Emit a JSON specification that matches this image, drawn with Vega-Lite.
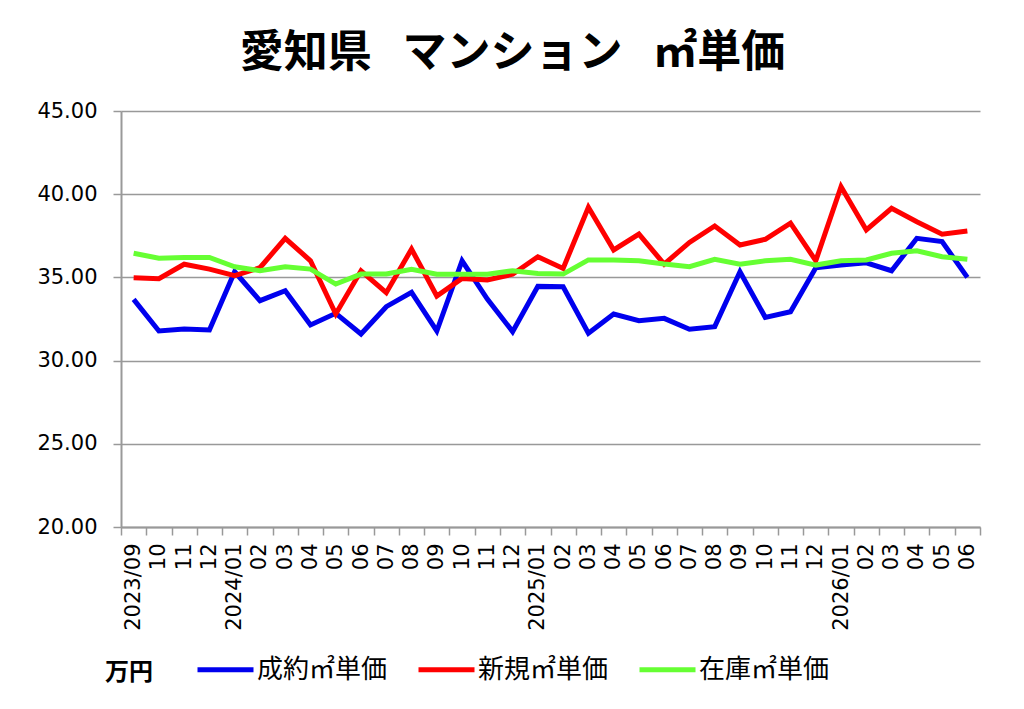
{
  "$schema": "https://vega.github.io/schema/vega-lite/v6.json",
  "width": 859,
  "height": 416,
  "autosize": {"type": "none"},
  "padding": {"left": 121, "top": 111, "right": 44, "bottom": 182},
  "background": "white",
  "title": {
    "text": "愛知県\u2002\u2009マンション\u2002\u2009㎡単価",
    "font": "Noto Sans CJK JP",
    "fontSize": 44,
    "fontWeight": "bold",
    "color": "#000000",
    "anchor": "middle",
    "dx": -38,
    "offset": 24
  },
  "data": {
    "values": [
      {"月": "2023/09", "成約㎡単価": 33.68, "新規㎡単価": 34.98, "在庫㎡単価": 36.45},
      {"月": "2023/10", "成約㎡単価": 31.78, "新規㎡単価": 34.92, "在庫㎡単価": 36.15},
      {"月": "2023/11", "成約㎡単価": 31.9, "新規㎡単価": 35.79, "在庫㎡単価": 36.2},
      {"月": "2023/12", "成約㎡単価": 31.84, "新規㎡単価": 35.5, "在庫㎡単価": 36.2},
      {"月": "2024/01", "成約㎡単価": 35.34, "新規㎡単価": 35.1, "在庫㎡単価": 35.64},
      {"月": "2024/02", "成約㎡単価": 33.6, "新規㎡単価": 35.58, "在庫㎡単価": 35.4},
      {"月": "2024/03", "成約㎡単価": 34.2, "新規㎡単価": 37.35, "在庫㎡単価": 35.64},
      {"月": "2024/04", "成約㎡単価": 32.14, "新規㎡単価": 36.0, "在庫㎡単価": 35.5},
      {"月": "2024/05", "成約㎡単価": 32.84, "新規㎡単価": 32.8, "在庫㎡単価": 34.6},
      {"月": "2024/06", "成約㎡単価": 31.6, "新規㎡単価": 35.4, "在庫㎡単価": 35.2},
      {"月": "2024/07", "成約㎡単価": 33.24, "新規㎡単価": 34.08, "在庫㎡単価": 35.2},
      {"月": "2024/08", "成約㎡単価": 34.1, "新規㎡単価": 36.7, "在庫㎡単価": 35.49},
      {"月": "2024/09", "成約㎡単価": 31.78, "新規㎡単価": 33.88, "在庫㎡単価": 35.19},
      {"月": "2024/10", "成約㎡単価": 36.0, "新規㎡単価": 34.94, "在庫㎡単価": 35.19},
      {"月": "2024/11", "成約㎡単価": 33.7, "新規㎡単価": 34.85, "在庫㎡単価": 35.19},
      {"月": "2024/12", "成約㎡単価": 31.74, "新規㎡単価": 35.19, "在庫㎡単価": 35.4},
      {"月": "2025/01", "成約㎡単価": 34.46, "新規㎡単価": 36.24, "在庫㎡単価": 35.24},
      {"月": "2025/02", "成約㎡単価": 34.44, "新規㎡単価": 35.54, "在庫㎡単価": 35.2},
      {"月": "2025/03", "成約㎡単価": 31.64, "新規㎡単価": 39.21, "在庫㎡単価": 36.05},
      {"月": "2025/04", "成約㎡単価": 32.8, "新規㎡単価": 36.65, "在庫㎡単価": 36.05},
      {"月": "2025/05", "成約㎡単価": 32.4, "新規㎡単価": 37.6, "在庫㎡単価": 36.0},
      {"月": "2025/06", "成約㎡単価": 32.54, "新規㎡単価": 35.8, "在庫㎡単価": 35.8},
      {"月": "2025/07", "成約㎡単価": 31.88, "新規㎡単価": 37.1, "在庫㎡単価": 35.64},
      {"月": "2025/08", "成約㎡単価": 32.04, "新規㎡単価": 38.09, "在庫㎡単価": 36.09},
      {"月": "2025/09", "成約㎡単価": 35.34, "新規㎡単価": 36.95, "在庫㎡単価": 35.79},
      {"月": "2025/10", "成約㎡単価": 32.6, "新規㎡単価": 37.29, "在庫㎡単価": 36.0},
      {"月": "2025/11", "成約㎡単価": 32.94, "新規㎡単価": 38.26, "在庫㎡単価": 36.09},
      {"月": "2025/12", "成約㎡単価": 35.58, "新規㎡単価": 36.0, "在庫㎡単価": 35.74},
      {"月": "2026/01", "成約㎡単価": 35.74, "新規㎡単価": 40.45, "在庫㎡単価": 36.0},
      {"月": "2026/02", "成約㎡単価": 35.88, "新規㎡単価": 37.85, "在庫㎡単価": 36.05},
      {"月": "2026/03", "成約㎡単価": 35.4, "新規㎡単価": 39.15, "在庫㎡単価": 36.45},
      {"月": "2026/04", "成約㎡単価": 37.35, "新規㎡単価": 38.35, "在庫㎡単価": 36.6},
      {"月": "2026/05", "成約㎡単価": 37.15, "新規㎡単価": 37.6, "在庫㎡単価": 36.24},
      {"月": "2026/06", "成約㎡単価": 35.0, "新規㎡単価": 37.79, "在庫㎡単価": 36.09}
    ]
  },
  "transform": [
    {"fold": ["成約㎡単価", "新規㎡単価", "在庫㎡単価"], "as": ["系列", "値"]}
  ],
  "mark": {"type": "line", "strokeWidth": 5},
  "encoding": {
    "x": {
      "field": "月",
      "type": "ordinal",
      "bandPosition": 0.5,
      "scale": {"type": "band", "paddingInner": 0, "paddingOuter": 0},
      "axis": {
        "title": null,
        "grid": false,
        "tickBand": "extent",
        "labelAngle": 270,
        "labelFlush": false,
        "labelOverlap": false,
        "labelExpr": "!isString(datum.value) ? '' : ((substring(datum.value,5,7)=='01' || datum.value=='2023/09') ? datum.value : substring(datum.value,5,7))",
        "labelFont": "DejaVu Sans",
        "labelFontSize": 21,
        "labelColor": "#000000",
        "labelPadding": 8,
        "domainColor": "#999999",
        "domainWidth": 2,
        "tickColor": "#999999",
        "tickWidth": 1.5,
        "tickSize": 8
      }
    },
    "y": {
      "field": "値",
      "type": "quantitative",
      "scale": {"domain": [20, 45], "nice": false, "zero": false},
      "axis": {
        "title": null,
        "values": [20, 25, 30, 35, 40, 45],
        "format": ".2f",
        "labelFont": "DejaVu Sans",
        "labelFontSize": 21,
        "labelColor": "#000000",
        "labelPadding": 16,
        "gridColor": "#999999",
        "gridWidth": 1.5,
        "domainColor": "#999999",
        "domainWidth": 2,
        "tickColor": "#999999",
        "tickWidth": 1.5,
        "tickSize": 8
      }
    },
    "color": {
      "field": "系列",
      "type": "nominal",
      "sort": ["成約㎡単価", "新規㎡単価", "在庫㎡単価"],
      "scale": {
        "domain": ["成約㎡単価", "新規㎡単価", "在庫㎡単価"],
        "range": ["#0000ee", "#ff0000", "#66ff33"]
      },
      "legend": {
        "orient": "none",
        "legendX": -16,
        "legendY": 528,
        "direction": "horizontal",
        "title": "万円",
        "titleOrient": "left",
        "titleAnchor": "middle",
        "titleBaseline": "top",
        "titleFont": "Noto Sans CJK JP",
        "titleFontSize": 24,
        "titleFontWeight": "bold",
        "titleColor": "#000000",
        "titlePadding": 42,
        "symbolType": "stroke",
        "symbolSize": 3136,
        "symbolStrokeWidth": 5,
        "labelFont": "Noto Sans CJK JP",
        "labelFontSize": 26,
        "labelColor": "#000000",
        "labelOffset": 1,
        "labelLimit": 300,
        "columnPadding": 20
      }
    }
  },
  "config": {
    "view": {"stroke": null}
  }
}
